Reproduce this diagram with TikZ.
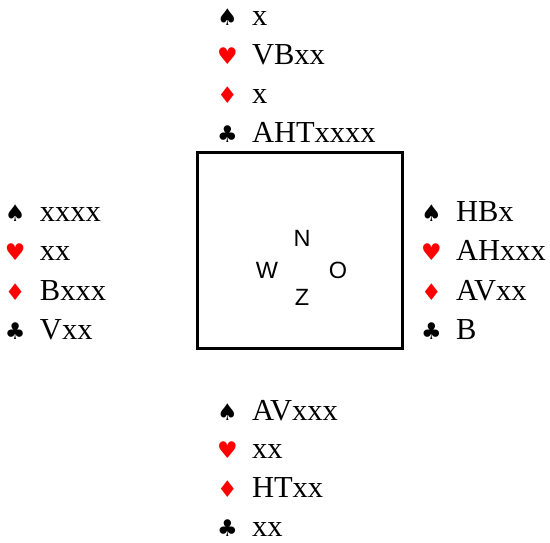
\documentclass[tikz,border=0pt]{standalone}
\usepackage{fontspec}
\setmainfont{Liberation Serif}
\newfontfamily\suitfont{DejaVu Sans}
\newfontfamily\compassfont{Liberation Sans}
\usetikzlibrary{positioning}
\definecolor{suitred}{HTML}{FF0000}
\definecolor{suitblack}{HTML}{000000}
\newcommand{\Sp}{{\suitfont\color{suitblack}♠}}
\newcommand{\He}{{\suitfont\color{suitred}♥}}
\newcommand{\Di}{{\suitfont\color{suitred}♦}}
\newcommand{\Cl}{{\suitfont\color{suitblack}♣}}
\newcommand{\suitrow}[2]{\makebox[35pt][l]{\fontsize{23}{23}\selectfont #1}#2}
\tikzset{
  every node/.style={font=\fontsize{30.5}{30.5}\selectfont, text=black},
  hand/.style={anchor=base west, inner sep=0pt, outer sep=0pt},
  table/.style={rectangle, draw=black, line width=3pt, inner sep=0pt,
    minimum width=205pt, minimum height=196pt},
  compass/.style={font=\compassfont\fontsize{23.5}{23.5}\selectfont,
    inner sep=0pt, anchor=center},
}
\begin{document}
\begin{tikzpicture}[x=1pt,y=-1pt]
\useasboundingbox (0,0) rectangle (550,542);

% ---- Table -----------------------------------------------------------------
\node[table] (tbl) at (300.4,250.3) {};
\node[compass] (cn) at (302,238) {N};
\node[compass] (cw) at (267,270) {W};
\node[compass] (co) at (338,270) {O};
\node[compass] (cz) at (302,297) {Z};

% ---- North -----------------------------------------------------------------
\foreach \s/\h [count=\i] in {\Sp/x, \He/VBxx, \Di/x, \Cl/AHTxxxx}
  \node[hand] (north\i) at (217,25+39.3*\i-39.3) {\suitrow{\s}{\h}};

% ---- West ------------------------------------------------------------------
\foreach \s/\h [count=\i] in {\Sp/xxxx, \He/xx, \Di/Bxxx, \Cl/Vxx}
  \node[hand] (west\i) at (5,221+39.6*\i-39.6) {\suitrow{\s}{\h}};

% ---- East ------------------------------------------------------------------
\foreach \s/\h [count=\i] in {\Sp/HBx, \He/AHxxx, \Di/AVxx, \Cl/B}
  \node[hand] (east\i) at (421,221+39.6*\i-39.6) {\suitrow{\s}{\h}};

% ---- South -----------------------------------------------------------------
\foreach \s/\h [count=\i] in {\Sp/AVxxx, \He/xx, \Di/HTxx, \Cl/xx}
  \node[hand] (south\i) at (217,420+38.7*\i-38.7) {\suitrow{\s}{\h}};

\end{tikzpicture}
\end{document}
